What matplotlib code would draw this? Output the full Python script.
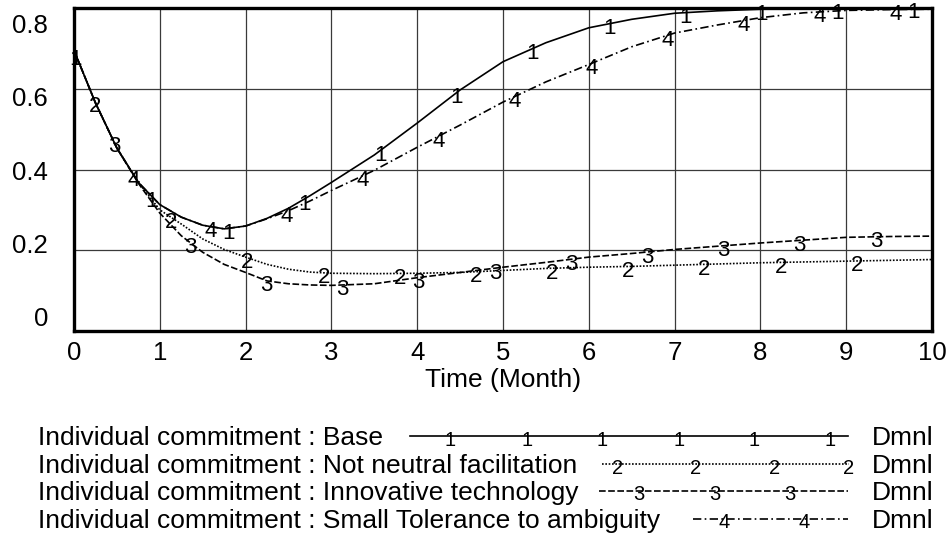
import numpy as np
import matplotlib
matplotlib.use("Agg")
import matplotlib.pyplot as plt
from matplotlib.lines import Line2D

plt.rcParams['font.family'] = ['Liberation Sans', 'DejaVu Sans']

# data
time = [0, 0.25, 0.5, 0.75, 1, 1.25, 1.5, 1.75, 2, 2.25, 2.5, 2.75, 3, 3.5, 4,
        4.5, 5, 5.5, 6, 6.5, 7, 7.5, 8, 8.5, 9, 9.5, 10]
base = [0.695, 0.565, 0.453, 0.368, 0.313, 0.282, 0.262, 0.253, 0.26, 0.279, 0.304,
        0.335, 0.368, 0.436, 0.515, 0.597, 0.667, 0.714, 0.751, 0.772, 0.787, 0.793,
        0.797, 0.799, 0.8, 0.8, 0.8]
not_neutral = [0.695, 0.565, 0.453, 0.368, 0.30, 0.265, 0.228, 0.202, 0.183, 0.165,
               0.153, 0.146, 0.143, 0.142, 0.143, 0.145, 0.15, 0.155, 0.158, 0.16,
               0.163, 0.166, 0.169, 0.171, 0.173, 0.175, 0.177]
innovative = [0.695, 0.565, 0.453, 0.366, 0.292, 0.236, 0.195, 0.165, 0.145, 0.124,
              0.117, 0.114, 0.113, 0.117, 0.132, 0.145, 0.158, 0.17, 0.183, 0.192,
              0.202, 0.21, 0.218, 0.225, 0.232, 0.234, 0.235]
small_tol = [0.695, 0.565, 0.453, 0.368, 0.313, 0.282, 0.262, 0.253, 0.26, 0.278, 0.298,
             0.322, 0.348, 0.398, 0.455, 0.51, 0.567, 0.617, 0.66, 0.704, 0.738, 0.758,
             0.776, 0.788, 0.794, 0.796, 0.797]

names = ['Individual commitment : Base',
         'Individual commitment : Not neutral facilitation',
         'Individual commitment : Innovative technology',
         'Individual commitment : Small Tolerance to ambiguity']
series = [base, not_neutral, innovative, small_tol]
styles = ['-', (0, (1, 1)), (0, (4, 1.5)), (0, (5, 2, 1, 2))]
marker_start = [0.02, 0.245, 0.466, 0.70]
marker_step = 0.888

xticks = list(range(0, 11))
yticks = [0, 0.2, 0.4, 0.6, 0.8]
ytick_labels = ['0', '0.2', '0.4', '0.6', '0.8']

fig = plt.figure(figsize=(9.46, 5.43), dpi=100)
ax = fig.add_axes([74 / 946, 1 - 331 / 543, 858 / 946, 323 / 543])

for i, (vals, ls) in enumerate(zip(series, styles)):
    ax.plot(time, vals, color='black', linestyle=ls, linewidth=1.2)
    for t in np.arange(marker_start[i], 10, marker_step):
        ax.annotate(str(i + 1), (t, np.interp(t, time, vals)), xytext=(0, -5),
                    textcoords='offset pixels', ha='center', va='center',
                    fontsize=16, annotation_clip=False)

ax.set_xlim(0, 10)
ax.set_ylim(0, 0.8)
ax.set_xticks(xticks)
ax.set_yticks(yticks)
ax.set_yticklabels([])
ax.tick_params(length=0, labelsize=18.5)
ax.tick_params(axis='x', pad=7)
ax.grid(True, color='#3a3a3a', linewidth=0.9)
for s in ax.spines.values():
    s.set_linewidth(2.4)
ax.set_xlabel('Time (Month)', fontsize=19, labelpad=2)

# Vensim spreads the y labels evenly inside the frame
for frac, lab in zip(np.linspace(0.037, 0.944, len(yticks)), ytick_labels):
    ax.text(-0.0303, frac, lab, transform=ax.transAxes, ha='right', va='center',
            fontsize=18.5)

# legend block under the chart
baselines = [445, 473, 500, 528]
line_spans = [(410, 848), (602, 849), (599, 848), (693, 848)]
legend_marks = [[450, 527, 602, 679, 754, 830], [618, 696, 775, 849],
                [639, 715, 790], [724, 804]]
for i in range(4):
    yb = 1 - baselines[i] / 543
    yl = 1 - (baselines[i] - 9) / 543
    fig.text(38 / 946, yb, names[i], fontsize=19, va='baseline')
    fig.text(872 / 946, yb, 'Dmnl', fontsize=19, va='baseline')
    x0, x1 = line_spans[i]
    fig.add_artist(Line2D([x0 / 946, x1 / 946], [yl, yl], color='black',
                          linestyle=styles[i], linewidth=1.2,
                          transform=fig.transFigure))
    for xm in legend_marks[i]:
        fig.text(xm / 946, yl - 4 / 543, str(i + 1), fontsize=14.5,
                 ha='center', va='center')

fig.savefig('out.png', dpi=100)
